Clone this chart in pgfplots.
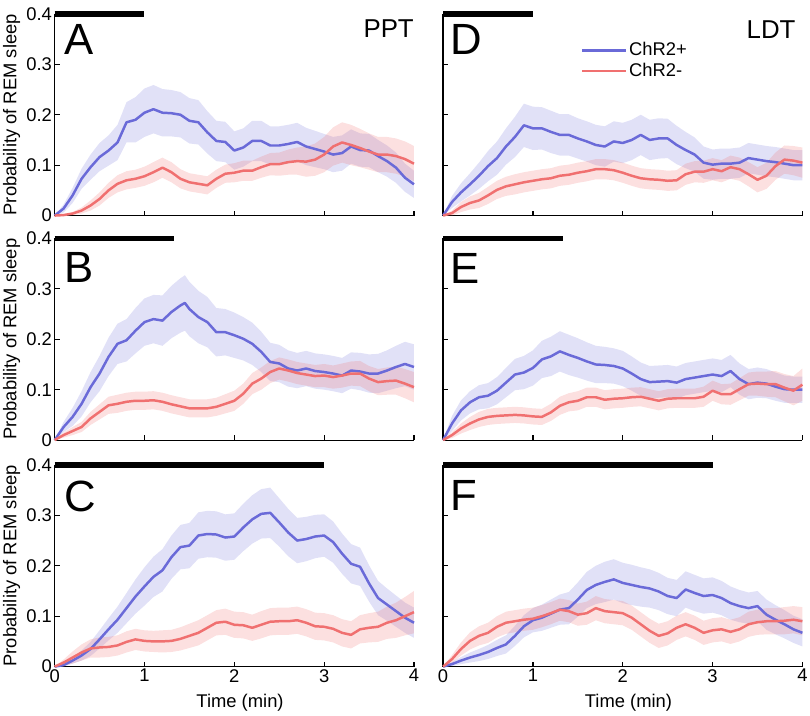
\documentclass[border=0pt]{standalone}
\usepackage{pgfplots}
\pgfplotsset{compat=1.18}
\usepackage{pgfplotstable}
\usepgfplotslibrary{fillbetween}
\usepackage{fontspec}
\setmainfont{Liberation Sans}
\definecolor{cblue}{RGB}{106,106,216}
\definecolor{cred}{RGB}{240,112,112}

\pgfplotstableread{
x b bs r rs
0.0 0 0 0 0
0.1 0.014 0.008 0.001 0.001
0.2 0.040 0.015 0.004 0.003
0.3 0.073 0.020 0.010 0.006
0.4 0.096 0.025 0.020 0.010
0.5 0.116 0.028 0.033 0.013
0.6 0.129 0.030 0.050 0.015
0.7 0.145 0.035 0.063 0.017
0.8 0.185 0.040 0.070 0.018
0.9 0.190 0.045 0.073 0.018
1.0 0.204 0.048 0.078 0.019
1.1 0.211 0.048 0.086 0.020
1.2 0.204 0.047 0.095 0.020
1.3 0.203 0.046 0.086 0.020
1.4 0.200 0.045 0.073 0.019
1.5 0.188 0.045 0.066 0.018
1.6 0.185 0.044 0.063 0.018
1.7 0.165 0.042 0.060 0.018
1.8 0.148 0.040 0.073 0.018
1.9 0.146 0.040 0.083 0.018
2.0 0.129 0.038 0.085 0.019
2.1 0.135 0.038 0.089 0.020
2.2 0.148 0.040 0.089 0.020
2.3 0.148 0.040 0.096 0.021
2.4 0.139 0.038 0.102 0.022
2.5 0.139 0.038 0.102 0.023
2.6 0.142 0.038 0.106 0.025
2.7 0.146 0.038 0.108 0.027
2.8 0.137 0.037 0.107 0.030
2.9 0.132 0.036 0.111 0.032
3.0 0.127 0.035 0.121 0.035
3.1 0.121 0.035 0.137 0.038
3.2 0.124 0.035 0.145 0.040
3.3 0.137 0.034 0.140 0.040
3.4 0.130 0.033 0.134 0.038
3.5 0.129 0.033 0.127 0.036
3.6 0.118 0.032 0.121 0.035
3.7 0.108 0.031 0.121 0.035
3.8 0.095 0.030 0.118 0.035
3.9 0.075 0.028 0.112 0.035
4.0 0.062 0.027 0.103 0.035
}\tA

\pgfplotstableread{
x b bs r rs
0.0 0 0 0 0
0.1 0.026 0.010 0.010 0.005
0.2 0.046 0.018 0.018 0.008
0.3 0.072 0.025 0.026 0.010
0.4 0.105 0.030 0.043 0.013
0.5 0.132 0.035 0.056 0.015
0.6 0.165 0.038 0.069 0.017
0.7 0.191 0.040 0.072 0.018
0.8 0.198 0.042 0.076 0.018
0.9 0.217 0.045 0.078 0.018
1.0 0.234 0.047 0.078 0.018
1.1 0.240 0.048 0.079 0.018
1.2 0.237 0.050 0.076 0.018
1.3 0.254 0.052 0.071 0.018
1.4 0.267 0.054 0.067 0.018
1.45 0.272 0.055 0.065 0.018
1.5 0.260 0.054 0.063 0.018
1.6 0.244 0.052 0.063 0.018
1.7 0.234 0.050 0.063 0.018
1.8 0.214 0.048 0.066 0.018
1.9 0.214 0.046 0.072 0.019
2.0 0.208 0.045 0.078 0.020
2.1 0.201 0.043 0.092 0.020
2.2 0.191 0.042 0.112 0.021
2.3 0.175 0.040 0.122 0.022
2.4 0.155 0.038 0.135 0.022
2.5 0.152 0.037 0.142 0.022
2.6 0.142 0.036 0.138 0.022
2.7 0.138 0.035 0.133 0.022
2.8 0.142 0.035 0.130 0.022
2.9 0.137 0.035 0.127 0.022
3.0 0.135 0.035 0.128 0.023
3.1 0.132 0.035 0.125 0.023
3.2 0.128 0.035 0.128 0.024
3.3 0.138 0.036 0.132 0.024
3.4 0.136 0.037 0.132 0.025
3.5 0.132 0.038 0.122 0.025
3.6 0.132 0.039 0.115 0.026
3.7 0.138 0.040 0.117 0.027
3.8 0.145 0.042 0.118 0.028
3.9 0.151 0.044 0.112 0.029
4.0 0.145 0.045 0.105 0.030
}\tB

\pgfplotstableread{
x b bs r rs
0.0 0 0 0 0
0.1 0.003 0.003 0.008 0.006
0.2 0.012 0.006 0.018 0.012
0.3 0.022 0.010 0.028 0.016
0.4 0.035 0.014 0.036 0.018
0.5 0.054 0.018 0.038 0.020
0.6 0.074 0.022 0.039 0.020
0.7 0.093 0.026 0.042 0.020
0.8 0.116 0.030 0.049 0.021
0.9 0.139 0.034 0.054 0.021
1.0 0.159 0.038 0.051 0.021
1.1 0.178 0.040 0.050 0.021
1.2 0.191 0.042 0.050 0.022
1.3 0.217 0.043 0.051 0.022
1.4 0.237 0.044 0.055 0.023
1.5 0.240 0.045 0.061 0.024
1.6 0.260 0.046 0.067 0.025
1.7 0.263 0.046 0.077 0.025
1.8 0.262 0.046 0.087 0.025
1.9 0.256 0.046 0.089 0.026
2.0 0.258 0.046 0.083 0.026
2.1 0.276 0.047 0.082 0.026
2.2 0.292 0.048 0.077 0.026
2.3 0.303 0.049 0.083 0.027
2.4 0.305 0.050 0.089 0.027
2.5 0.286 0.048 0.090 0.027
2.6 0.266 0.047 0.090 0.027
2.7 0.250 0.045 0.092 0.027
2.8 0.253 0.044 0.087 0.027
2.9 0.258 0.043 0.080 0.027
3.0 0.260 0.042 0.079 0.027
3.1 0.247 0.041 0.075 0.027
3.2 0.224 0.040 0.067 0.027
3.3 0.204 0.039 0.063 0.027
3.4 0.198 0.038 0.074 0.028
3.5 0.165 0.036 0.077 0.029
3.6 0.136 0.034 0.079 0.030
3.7 0.123 0.032 0.087 0.032
3.8 0.110 0.031 0.092 0.035
3.9 0.097 0.030 0.100 0.038
4.0 0.087 0.030 0.108 0.042
}\tC

\pgfplotstableread{
x b bs r rs
0.0 0 0 0 0
0.1 0.027 0.012 0.005 0.005
0.2 0.046 0.018 0.017 0.010
0.3 0.062 0.022 0.025 0.013
0.4 0.079 0.026 0.030 0.015
0.5 0.098 0.030 0.040 0.017
0.6 0.114 0.033 0.051 0.018
0.7 0.137 0.036 0.058 0.019
0.8 0.156 0.040 0.062 0.020
0.9 0.179 0.043 0.066 0.020
1.0 0.173 0.043 0.069 0.020
1.1 0.173 0.042 0.072 0.020
1.2 0.166 0.042 0.074 0.020
1.3 0.160 0.041 0.079 0.020
1.4 0.160 0.041 0.081 0.020
1.5 0.153 0.040 0.085 0.020
1.6 0.147 0.040 0.088 0.020
1.7 0.140 0.040 0.092 0.020
1.8 0.137 0.040 0.092 0.020
1.9 0.147 0.040 0.090 0.020
2.0 0.144 0.040 0.085 0.020
2.1 0.150 0.040 0.079 0.020
2.2 0.160 0.040 0.074 0.020
2.3 0.150 0.040 0.072 0.020
2.4 0.153 0.040 0.071 0.020
2.5 0.153 0.039 0.069 0.020
2.6 0.140 0.038 0.070 0.020
2.7 0.130 0.036 0.082 0.021
2.8 0.121 0.034 0.087 0.021
2.9 0.105 0.032 0.087 0.022
3.0 0.101 0.030 0.092 0.022
3.1 0.103 0.030 0.088 0.022
3.2 0.103 0.030 0.096 0.023
3.3 0.105 0.030 0.092 0.023
3.4 0.114 0.030 0.082 0.024
3.5 0.111 0.030 0.071 0.025
3.6 0.108 0.030 0.079 0.026
3.7 0.106 0.030 0.098 0.027
3.8 0.103 0.030 0.111 0.028
3.9 0.100 0.030 0.109 0.029
4.0 0.100 0.030 0.105 0.030
}\tD

\pgfplotstableread{
x b bs r rs
0.0 0 0 0 0
0.1 0.033 0.015 0.010 0.006
0.2 0.059 0.020 0.023 0.010
0.3 0.075 0.022 0.033 0.013
0.4 0.085 0.024 0.041 0.015
0.5 0.088 0.025 0.046 0.016
0.6 0.098 0.027 0.048 0.016
0.7 0.114 0.029 0.049 0.016
0.8 0.130 0.031 0.050 0.016
0.9 0.134 0.033 0.049 0.016
1.0 0.143 0.035 0.047 0.016
1.1 0.160 0.037 0.046 0.016
1.2 0.166 0.039 0.055 0.017
1.3 0.176 0.040 0.068 0.018
1.4 0.169 0.040 0.075 0.018
1.5 0.163 0.039 0.078 0.019
1.6 0.156 0.038 0.085 0.019
1.7 0.150 0.037 0.085 0.019
1.8 0.149 0.036 0.080 0.019
1.9 0.147 0.035 0.082 0.019
2.0 0.142 0.035 0.083 0.019
2.1 0.132 0.034 0.085 0.019
2.2 0.121 0.033 0.086 0.019
2.3 0.115 0.032 0.082 0.019
2.4 0.116 0.032 0.078 0.019
2.5 0.117 0.032 0.082 0.019
2.6 0.114 0.032 0.083 0.019
2.7 0.121 0.032 0.083 0.019
2.8 0.124 0.032 0.083 0.019
2.9 0.127 0.032 0.086 0.020
3.0 0.130 0.032 0.098 0.020
3.1 0.127 0.032 0.091 0.020
3.2 0.137 0.032 0.091 0.021
3.3 0.121 0.031 0.101 0.022
3.4 0.111 0.030 0.111 0.023
3.5 0.114 0.030 0.112 0.024
3.6 0.112 0.029 0.111 0.025
3.7 0.106 0.028 0.111 0.026
3.8 0.101 0.027 0.104 0.027
3.9 0.100 0.026 0.098 0.029
4.0 0.100 0.026 0.110 0.032
}\tE

\pgfplotstableread{
x b bs r rs
0.0 0 0 0 0
0.1 0.005 0.004 0.015 0.008
0.2 0.012 0.007 0.035 0.013
0.3 0.018 0.010 0.051 0.017
0.4 0.023 0.012 0.061 0.019
0.5 0.029 0.014 0.067 0.020
0.6 0.037 0.016 0.079 0.021
0.7 0.044 0.018 0.087 0.022
0.8 0.061 0.020 0.090 0.022
0.9 0.080 0.022 0.093 0.022
1.0 0.092 0.024 0.095 0.022
1.1 0.097 0.026 0.100 0.022
1.2 0.105 0.028 0.106 0.022
1.3 0.113 0.030 0.113 0.022
1.4 0.116 0.032 0.110 0.022
1.5 0.133 0.034 0.103 0.022
1.6 0.152 0.036 0.106 0.023
1.7 0.162 0.038 0.116 0.024
1.8 0.168 0.040 0.110 0.024
1.9 0.173 0.040 0.108 0.024
2.0 0.166 0.040 0.106 0.024
2.1 0.162 0.040 0.097 0.024
2.2 0.158 0.039 0.084 0.024
2.3 0.155 0.038 0.071 0.024
2.4 0.149 0.037 0.061 0.024
2.5 0.140 0.036 0.066 0.024
2.6 0.136 0.036 0.077 0.024
2.7 0.153 0.036 0.084 0.024
2.8 0.146 0.036 0.077 0.024
2.9 0.140 0.035 0.067 0.024
3.0 0.142 0.035 0.072 0.024
3.1 0.136 0.034 0.074 0.024
3.2 0.126 0.033 0.069 0.024
3.3 0.120 0.032 0.074 0.024
3.4 0.116 0.031 0.084 0.025
3.5 0.120 0.030 0.088 0.025
3.6 0.103 0.030 0.090 0.026
3.7 0.093 0.029 0.090 0.026
3.8 0.084 0.028 0.091 0.027
3.9 0.074 0.027 0.093 0.027
4.0 0.067 0.027 0.090 0.028
}\tF

\newcommand{\fs}{\fontsize{18.5}{22}\selectfont}
\newcommand{\bigletter}{\fontsize{44}{48}\selectfont}

\pgfplotsset{
  panel/.style={
    scale only axis, width=361.7pt, height=203pt,
    anchor=south west,
    xmin=0, xmax=4, ymin=0, ymax=0.4,
    axis x line=bottom, axis y line=left,
    axis line style={-, line width=1.2pt, black},
    tick style={line width=1.2pt, black},
    tick align=inside, major tick length=5pt,
    xtick={0,1,2,3,4}, ytick={0,0.1,0.2,0.3,0.4},
    xticklabels={0,1,2,3,4}, yticklabels={0,0.1,0.2,0.3,0.4},
    tick label style={font=\fs, inner sep=2.5pt},
    clip=false, no markers,
    ylabel style={font=\fs, at={(axis description cs:-0.1438,0.5)}, anchor=north, inner sep=0pt},
    xlabel style={font=\fs, at={(axis description cs:0.516,0)}, anchor=base, yshift=-40.7pt, inner sep=0pt},
  },
  notx/.style={xticklabels={}},
  noty/.style={yticklabels={}},
}

% #1 table, #2 bar end, #3 unique prefix
\newcommand{\panelplots}[3]{%
  \addplot[name path=#3bu, draw=none, forget plot] table[x=x, y expr=\thisrow{b}+\thisrow{bs}]{#1};
  \addplot[name path=#3bl, draw=none, forget plot] table[x=x, y expr=\thisrow{b}-\thisrow{bs}]{#1};
  \addplot[fill=cblue, fill opacity=0.2, draw=none, forget plot] fill between[of=#3bu and #3bl];
  \addplot[name path=#3ru, draw=none, forget plot] table[x=x, y expr=\thisrow{r}+\thisrow{rs}]{#1};
  \addplot[name path=#3rl, draw=none, forget plot] table[x=x, y expr=\thisrow{r}-\thisrow{rs}]{#1};
  \addplot[fill=cred, fill opacity=0.22, draw=none, forget plot] fill between[of=#3ru and #3rl];
  \addplot[cblue, line width=2.5pt, line join=round] table[x=x, y=b]{#1};
  \addplot[cred, line width=2.5pt, line join=round] table[x=x, y=r]{#1};
  \addplot[black, line width=5.5pt, forget plot] coordinates {(0,0.4) (#2,0.4)};
}

\begin{document}
\begin{tikzpicture}

% A
\begin{axis}[panel, notx, at={(55pt,503pt)}, ylabel={Probability of REM sleep}]
\panelplots{\tA}{1}{pa}
\node[anchor=base west, inner sep=0pt, font=\bigletter] at (axis cs:0.108,0.319) {A};
\node[anchor=base east, inner sep=0pt, font=\fontsize{26}{30}\selectfont] at (axis cs:4,0.353) {PPT};
\end{axis}

% B
\begin{axis}[panel, notx, at={(55pt,277pt)}, ylabel={Probability of REM sleep}]
\panelplots{\tB}{1.333}{pb}
\node[anchor=base west, inner sep=0pt, font=\bigletter] at (axis cs:0.108,0.313) {B};
\end{axis}

% C
\begin{axis}[panel, at={(55pt,49pt)}, ylabel={Probability of REM sleep}, xlabel={Time (min)}]
\panelplots{\tC}{3}{pc}
\node[anchor=base west, inner sep=0pt, font=\bigletter] at (axis cs:0.105,0.308) {C};
\end{axis}

% D
\begin{axis}[panel, notx, noty, at={(446pt,503pt)},
  legend style={at={(0.383,0.867)}, anchor=north west, draw=none, fill=none,
    font=\fs, inner sep=0pt, row sep=2pt,
    nodes={inner sep=2pt, text height=13pt, text depth=2pt}},
  legend cell align=left,
  legend image code/.code={\draw[#1, line width=2.5pt] (0pt,0pt) -- (44pt,0pt);}]
\panelplots{\tD}{1}{pd}
\legend{ChR2+,ChR2-}
\node[anchor=base west, inner sep=0pt, font=\bigletter] at (axis cs:0.078,0.319) {D};
\node[anchor=base east, inner sep=0pt, font=\fontsize{26}{30}\selectfont] at (axis cs:3.925,0.352) {LDT};
\end{axis}

% E
\begin{axis}[panel, notx, noty, at={(446pt,277pt)}]
\panelplots{\tE}{1.333}{pe}
\node[anchor=base west, inner sep=0pt, font=\bigletter] at (axis cs:0.078,0.31) {E};
\end{axis}

% F
\begin{axis}[panel, noty, at={(446pt,49pt)}, xlabel={Time (min)}]
\panelplots{\tF}{3}{pf}
\node[anchor=base west, inner sep=0pt, font=\bigletter] at (axis cs:0.078,0.309) {F};
\end{axis}

\path (0pt,0pt) rectangle (810pt,720pt);
\end{tikzpicture}
\end{document}
